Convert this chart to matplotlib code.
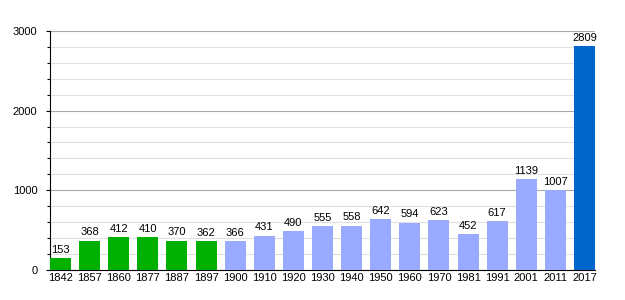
import matplotlib
matplotlib.use("Agg")
import matplotlib.pyplot as plt
from matplotlib.ticker import MultipleLocator

plt.rcParams['font.family'] = ['Liberation Sans', 'DejaVu Sans']

years = ['1842', '1857', '1860', '1877', '1887', '1897', '1900', '1910', '1920', '1930',
         '1940', '1950', '1960', '1970', '1981', '1991', '2001', '2011', '2017']
population = [153, 368, 412, 410, 370, 362, 366, 431, 490, 555,
              558, 642, 594, 623, 452, 617, 1139, 1007, 2809]
colors = ['#00b000'] * 6 + ['#99aaff'] * 12 + ['#0066cc']

fig = plt.figure(figsize=(6.25, 3), dpi=100)
ax = fig.add_axes([0.08, 0.1, 0.872, 0.797])

x = list(range(len(years)))
ax.bar(x, population, width=0.72, color=colors, zorder=3)
for xi, v in zip(x, population):
    ax.text(xi, v + 40, str(v), ha='center', va='bottom', fontsize=8, zorder=4)

ax.set_xlim(-0.36, len(years) - 0.64)
ax.set_ylim(0, 3000)
ax.set_xticks(x)
ax.set_xticklabels(years, fontsize=8)
ax.yaxis.set_major_locator(MultipleLocator(1000))
ax.yaxis.set_minor_locator(MultipleLocator(200))
ax.tick_params(axis='y', labelsize=8, length=3, width=0.8, pad=6)
ax.tick_params(axis='y', which='minor', length=2, width=0.8)
ax.tick_params(axis='x', length=0, pad=2)
ax.grid(axis='y', which='major', color='#aaaaaa', linewidth=0.8, zorder=0)
ax.grid(axis='y', which='minor', color='#e0e0e0', linewidth=0.8, zorder=0)
for s in ['top', 'right']:
    ax.spines[s].set_visible(False)
ax.spines['left'].set_linewidth(0.8)
ax.spines['bottom'].set_linewidth(0.8)

fig.savefig('out.png', dpi=100)
